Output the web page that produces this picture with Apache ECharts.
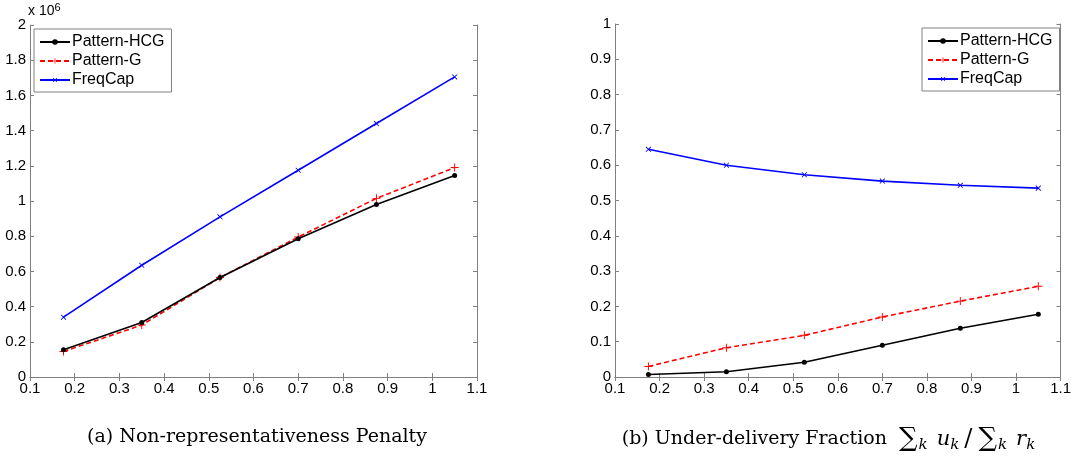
<!DOCTYPE html>
<html>
<head>
<meta charset="utf-8">
<script src="https://cdn.jsdelivr.net/npm/echarts@6/dist/echarts.min.js"></script>
<style>
html, body { margin: 0; padding: 0; background: #fff; }
#chart { width: 1074px; height: 459px; }
</style>
</head>
<body>
<div id="chart"></div>
<script>
// x positions shared by both panels
const xValues = [0.175, 0.35, 0.525, 0.7, 0.875, 1.05];
const seriesNames = ['Pattern-HCG', 'Pattern-G', 'FreqCap'];

// (a) penalty, in units of 1e6
const penaltyHCG = [0.155, 0.31, 0.565, 0.785, 0.98, 1.145];
const penaltyG = [0.145, 0.295, 0.565, 0.795, 1.015, 1.19];
const penaltyFreqCap = [0.34, 0.635, 0.91, 1.175, 1.44, 1.705];

// (b) under-delivery fraction
const underHCG = [0.007, 0.015, 0.042, 0.09, 0.138, 0.178];
const underG = [0.03, 0.083, 0.118, 0.17, 0.215, 0.257];
const underFreqCap = [0.645, 0.6, 0.573, 0.555, 0.543, 0.535];

const chart = echarts.init(document.getElementById('chart'));

const axisGray = '#808080';
const tickFont = { fontFamily: 'Liberation Sans', fontSize: 15, color: '#000' };

const plus = 'path://M-0.6,-5 h1.2 v10 h-1.2z M-5,-0.6 h10 v1.2 h-10z';

const styles = [
    { color: '#000000', symbol: 'circle', symbolSize: 5, type: 'solid', rotate: 0 },
    { color: '#ff0000', symbol: plus, symbolSize: 8, type: [5, 3], rotate: 0 },
    { color: '#0000ff', symbol: plus, symbolSize: 7, type: 'solid', rotate: 45 }
];

const pair = arr => xValues.map((x, i) => [x, arr[i]]);

const makeSeries = (values, idx) => values.map((arr, i) => ({
    name: seriesNames[i],
    type: 'line',
    xAxisIndex: idx * 2,
    yAxisIndex: idx * 2,
    data: pair(arr),
    symbol: styles[i].symbol,
    symbolSize: styles[i].symbolSize,
    symbolRotate: styles[i].rotate,
    showAllSymbol: true,
    color: styles[i].color,
    lineStyle: { color: styles[i].color, width: 1.6, type: styles[i].type },
    itemStyle: { color: styles[i].color },
    z: 3 - i
}));

const xAxisPair = (grid) => [
    {
        type: 'value', gridIndex: grid, min: 0.1, max: 1.1, interval: 0.1,
        axisLine: { lineStyle: { color: axisGray, width: 1 } },
        axisTick: { inside: true, length: 4, lineStyle: { color: axisGray } },
        axisLabel: Object.assign({ margin: 4, formatter: v => String(+v.toFixed(1)) }, tickFont),
        splitLine: { show: false }
    },
    {
        type: 'value', gridIndex: grid, position: 'top', min: 0.1, max: 1.1, interval: 0.1,
        axisLine: { lineStyle: { color: axisGray, width: 1 } },
        axisTick: { inside: true, length: 4, lineStyle: { color: axisGray } },
        axisLabel: { show: false },
        splitLine: { show: false }
    }
];

const yAxisPair = (grid, max, interval) => [
    {
        type: 'value', gridIndex: grid, min: 0, max: max, interval: interval,
        axisLine: { show: true, lineStyle: { color: axisGray, width: 1 } },
        axisTick: { show: true, inside: true, length: 4, lineStyle: { color: axisGray } },
        axisLabel: Object.assign({ margin: 4, formatter: v => String(+v.toFixed(1)) }, tickFont),
        splitLine: { show: false }
    },
    {
        type: 'value', gridIndex: grid, position: 'right', min: 0, max: max, interval: interval,
        axisLine: { show: true, lineStyle: { color: axisGray, width: 1 } },
        axisTick: { show: true, inside: true, length: 4, lineStyle: { color: axisGray } },
        axisLabel: { show: false },
        splitLine: { show: false }
    }
];

const legendBase = {
    orient: 'vertical',
    data: seriesNames,
    itemWidth: 30,
    itemHeight: 7,
    itemGap: 3,
    padding: [5, 7, 4, 5],
    borderColor: axisGray,
    borderWidth: 1,
    borderRadius: 0,
    backgroundColor: '#fff',
    selectedMode: false,
    textStyle: { fontFamily: 'Liberation Sans', fontSize: 16, color: '#000', padding: [0, 0, 0, -3] }
};

const option = {
    animation: false,
    grid: [
        { left: 30, top: 25, width: 447, height: 352 },
        { left: 615, top: 24, width: 447, height: 353 }
    ],
    xAxis: [...xAxisPair(0), ...xAxisPair(1)],
    yAxis: [...yAxisPair(0, 2, 0.2), ...yAxisPair(1, 1, 0.1)],
    legend: [
        Object.assign({ left: 34, top: 29 }, legendBase),
        Object.assign({ left: 922, top: 28 }, legendBase)
    ],
    series: [
        ...makeSeries([penaltyHCG, penaltyG, penaltyFreqCap], 0),
        ...makeSeries([underHCG, underG, underFreqCap], 1)
    ],
    graphic: [
        {
            type: 'text', left: 28, top: 2,
            style: {
                text: 'x 10{sup|6}',
                font: '14px "Liberation Sans"', fill: '#000',
                rich: { sup: { fontSize: 11, verticalAlign: 'top', padding: [0, 0, 7, 0], fontFamily: 'Liberation Sans' } }
            }
        },
        {
            type: 'text', x: 257, y: 428,
            style: {
                text: '(a) Non-representativeness Penalty',
                font: '19px "DejaVu Serif"', fill: '#000', align: 'center'
            }
        },
        {
            type: 'text', x: 830, y: 426,
            style: {
                text: '(b) Under-delivery Fraction {sum|∑}{sub|k} {it|u}{sub|k}{n|/}{sum|∑}{sub|k} {it|r}{sub|k}',
                font: '19px "DejaVu Serif"', fill: '#000', align: 'center',
                rich: {
                    sum: { fontSize: 26, fontFamily: 'DejaVu Serif', padding: [0, 1, 0, 6] },
                    sub: { fontSize: 15, fontStyle: 'italic', fontFamily: 'DejaVu Serif', padding: [12, 3, 0, 0] },
                    it: { fontSize: 21, fontStyle: 'italic', fontFamily: 'DejaVu Serif' },
                    n: { fontSize: 24, fontFamily: 'DejaVu Serif', padding: [0, 0, 0, 2] }
                }
            }
        }
    ]
};

chart.setOption(option);
window.addEventListener('resize', () => chart.resize());
</script>
</body>
</html>
